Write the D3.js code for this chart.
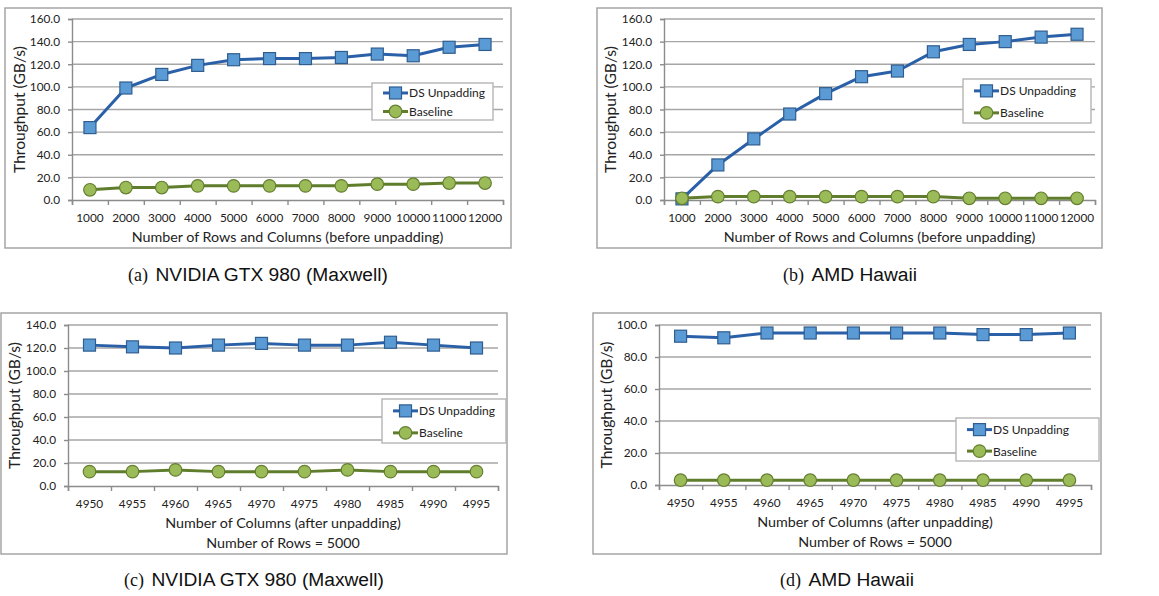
<!DOCTYPE html>
<html><head><meta charset="utf-8">
<script src="https://cdn.jsdelivr.net/npm/d3@7"></script>
<style>
html,body{margin:0;padding:0;background:#fff;}
svg{display:block;}
text{font-family:Lato,"Open Sans",sans-serif;fill:#222;}
.cap{font-family:"Liberation Sans",Arial,sans-serif;fill:#111;}
.capl{font-family:"Liberation Serif","Times New Roman",serif;fill:#111;}
</style></head><body>
<svg id="c" width="1159" height="596"></svg>
<script>
// ---- data ----
const sizesAB = ["1000","2000","3000","4000","5000","6000","7000","8000","9000","10000","11000","12000"];
const colsCD = ["4950","4955","4960","4965","4970","4975","4980","4985","4990","4995"];
const seriesNames = ["DS Unpadding","Baseline"];

const dsA = [64,99,111,119,124,125,125,126,129,127.5,135,137.5];
const baseA = [9,11,11,12.5,12.5,12.5,12.5,12.5,14,14,15,15];

const dsB = [1,31,54,76,94,109,114,131,137.5,140,144,146.5];
const baseB = [1.5,3,3,3,3,3,3,3,1.5,1.5,1.5,1.5];

const dsC = [122.5,121,120,122.5,124,122.5,122.5,125,122.5,120];
const baseC = [12.5,12.5,14,12.5,12.5,12.5,14,12.5,12.5,12.5];

const dsD = [93,92,95,95,95,95,95,94,94,95];
const baseD = [3,3,3,3,3,3,3,3,3,3];

const yTicksAB = [0,20,40,60,80,100,120,140,160];
const yTicksC = [0,20,40,60,80,100,120,140];
const yTicksD = [0,20,40,60,80,100];

const yTitle = "Throughput (GB/s)";
const xTitleAB = ["Number of Rows and Columns (before unpadding)"];
const xTitleCD = ["Number of Columns (after unpadding)","Number of Rows = 5000"];
const captions = [["(a)","NVIDIA GTX 980 (Maxwell)"],["(b)","AMD Hawaii"],["(c)","NVIDIA GTX 980 (Maxwell)"],["(d)","AMD Hawaii"]];

// ---- layout ----
const panels = [
  {cats:sizesAB, ds:dsA, base:baseA, ticks:yTicksAB, xt:xTitleAB, cap:captions[0],
   frame:[5,8,506,240], plot:{l:72,r:503,t:19,b:200}, leg:[372,83,121,37], ytx:20, capx:258, capy:281},
  {cats:sizesAB, ds:dsB, base:baseB, ticks:yTicksAB, xt:xTitleAB, cap:captions[1],
   frame:[597,8,505,240], plot:{l:664,r:1095,t:19,b:200}, leg:[963,79,128,44], ytx:611, capx:850, capy:281},
  {cats:colsCD, ds:dsC, base:baseC, ticks:yTicksC, xt:xTitleCD, cap:captions[2],
   frame:[1,313,506,241], plot:{l:68,r:498,t:325,b:486}, leg:[382,399,124,44], ytx:15, capx:254, capy:586},
  {cats:colsCD, ds:dsD, base:baseD, ticks:yTicksD, xt:xTitleCD, cap:captions[3],
   frame:[593,313,508,241], plot:{l:659,r:1091,t:325,b:485}, leg:[956,418,143,43], ytx:607, capx:847, capy:586}
];

const styles = [
  {line:"#2a60a8", fill:"#5b9bd5", stroke:"#2f5d8f", shape:"square"},
  {line:"#5f7d2c", fill:"#9bbb59", stroke:"#647f2e", shape:"circle"}
];

const svg = d3.select("#c");

function marker(g, x, y, st){
  if(st.shape==="square"){
    g.append("rect").attr("x",x-6).attr("y",y-6).attr("width",12).attr("height",12)
      .attr("fill",st.fill).attr("stroke",st.stroke).attr("stroke-width",1.2);
  } else {
    g.append("circle").attr("cx",x).attr("cy",y).attr("r",6.3)
      .attr("fill",st.fill).attr("stroke",st.stroke).attr("stroke-width",1.2);
  }
}

panels.forEach(p=>{
  const g = svg.append("g");
  const [fx,fy,fw,fh] = p.frame;
  g.append("rect").attr("x",fx).attr("y",fy).attr("width",fw).attr("height",fh)
    .attr("fill","#fff").attr("stroke","#a5a5a5").attr("stroke-width",1.5);

  const x = d3.scaleBand().domain(p.cats).range([p.plot.l,p.plot.r]);
  const xi = d3.scaleLinear().domain([0,p.cats.length]).range([p.plot.l,p.plot.r]);
  const ymax = p.ticks[p.ticks.length-1];
  const y = d3.scaleLinear().domain([0,ymax]).range([p.plot.b,p.plot.t]);

  // gridlines
  g.append("g").selectAll("line").data(p.ticks.filter(t=>t>0)).join("line")
    .attr("x1",p.plot.l).attr("x2",p.plot.r).attr("y1",d=>y(d)).attr("y2",d=>y(d))
    .attr("stroke","#a6a6a6").attr("stroke-width",1.4);

  // y axis
  const ya = g.append("g").attr("transform",`translate(${p.plot.l},0)`)
    .call(d3.axisLeft(y).tickValues(p.ticks).tickFormat(d3.format(".1f")).tickSize(4).tickPadding(8));
  ya.select(".domain").attr("stroke","#8c8c8c").attr("stroke-width",1.4);
  ya.selectAll(".tick line").attr("stroke","#8c8c8c").attr("stroke-width",1.4);
  ya.selectAll("text").attr("font-family","Lato").attr("font-size",11.8).attr("fill","#222");

  // x axis: boundary ticks
  const xb = g.append("g").attr("transform",`translate(0,${p.plot.b})`)
    .call(d3.axisBottom(xi).tickValues(d3.range(p.cats.length+1)).tickFormat("").tickSize(5).tickSizeOuter(5));
  xb.select(".domain").attr("stroke","#8c8c8c").attr("stroke-width",1.4);
  xb.selectAll(".tick line").attr("stroke","#8c8c8c").attr("stroke-width",1.4);
  // x labels
  const xl = g.append("g").attr("transform",`translate(0,${p.plot.b})`)
    .call(d3.axisBottom(x).tickSize(0).tickPadding(14));
  xl.select(".domain").remove();
  xl.selectAll("text").attr("font-family","Lato").attr("font-size",11.8).attr("fill","#222");

  // x title
  const xc = (p.plot.l+p.plot.r)/2;
  p.xt.forEach((t,i)=>{
    g.append("text").attr("x",xc).attr("y",p.plot.b+42+i*20).attr("text-anchor","middle")
      .attr("font-size",14.3).text(t);
  });
  // y title
  const yc = (p.plot.t+p.plot.b)/2;
  g.append("text").attr("transform",`translate(${p.ytx+5},${yc}) rotate(-90)`)
    .attr("text-anchor","middle").attr("font-size",15.6).text(yTitle);

  // series
  [p.ds,p.base].forEach((vals,si)=>{
    const st = styles[si];
    const line = d3.line().x((d,i)=>x(p.cats[i])+x.bandwidth()/2).y(d=>y(d));
    g.append("path").attr("d",line(vals)).attr("fill","none")
      .attr("stroke",st.line).attr("stroke-width",3).attr("stroke-linejoin","round");
    const mg = g.append("g");
    vals.forEach((v,i)=>marker(mg, x(p.cats[i])+x.bandwidth()/2, y(v), st));
  });

  // legend
  const [lx,ly,lw,lh] = p.leg;
  g.append("rect").attr("x",lx).attr("y",ly).attr("width",lw).attr("height",lh)
    .attr("fill","#fff").attr("stroke","#b5b5b5").attr("stroke-width",1.4);
  seriesNames.forEach((n,i)=>{
    const st = styles[i];
    const cy = ly + lh*0.27 + i*lh*0.5;
    const x0 = lx+11, x1 = lx+36;
    g.append("line").attr("x1",x0).attr("x2",x1).attr("y1",cy).attr("y2",cy)
      .attr("stroke",st.line).attr("stroke-width",3);
    marker(g,(x0+x1)/2,cy,st);
    g.append("text").attr("x",x1+1).attr("y",cy+4.5).attr("font-size",12).text(n);
  });

  // caption
  const cg = g.append("text").attr("x",p.capx).attr("y",p.capy).attr("text-anchor","middle");
  cg.append("tspan").attr("class","capl").attr("font-size",18).text(p.cap[0]+" ");
  cg.append("tspan").attr("class","cap").attr("font-size",19.2).attr("dx",3).text(p.cap[1]);
});
</script></body></html>
